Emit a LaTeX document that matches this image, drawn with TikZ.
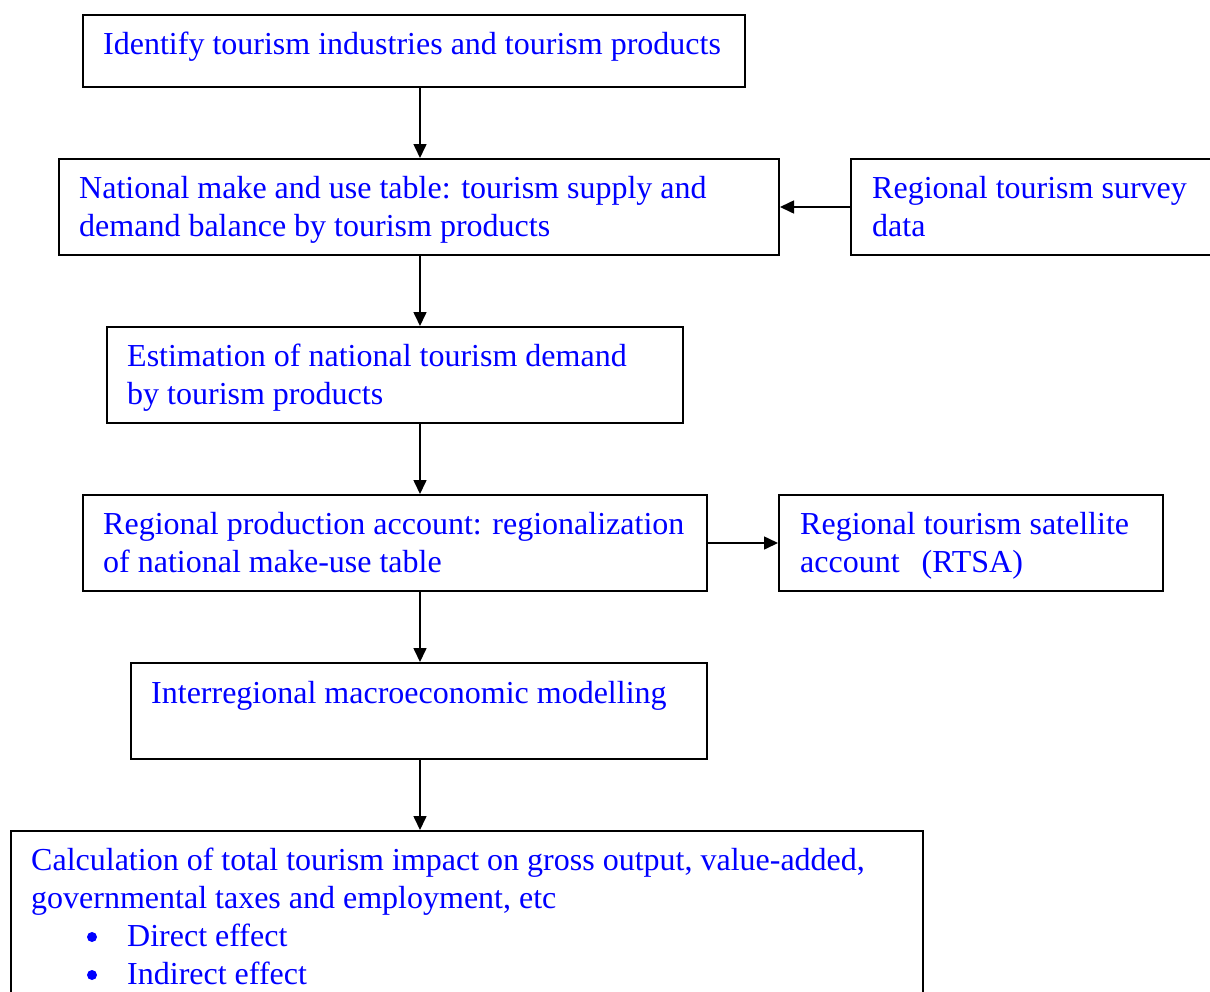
\documentclass[tikz,border=0pt]{standalone}
\usepackage{fontspec}
\setmainfont{Liberation Serif}
\usetikzlibrary{arrows.meta}
\definecolor{txtblue}{RGB}{0,0,255}
\begin{document}
\begin{tikzpicture}[x=1pt,y=-1pt,
  box/.style={draw=black,line width=2pt,rectangle,inner sep=0pt},
  lbl/.style={anchor=base west,inner sep=0pt,text=txtblue,font=\fontsize{32}{38}\selectfont},
  bul/.style={circle,fill=txtblue,inner sep=0pt,minimum size=10pt},
  arr/.style={line width=1.6pt,-{Triangle[length=14pt,width=13pt]}}]
\useasboundingbox (0,0) rectangle (1210,991);
\clip (0,0) rectangle (1210,991);
% boxes
\node[box,minimum width=662pt,minimum height=72pt] (a) at (414,51) {};
\node[box,minimum width=720pt,minimum height=96pt] (b) at (419,207) {};
\node[box,minimum width=379pt,minimum height=96pt] (c) at (1040.5,207) {};
\node[box,minimum width=576pt,minimum height=96pt] (d) at (395,375) {};
\node[box,minimum width=624pt,minimum height=96pt] (e) at (395,543) {};
\node[box,minimum width=384pt,minimum height=96pt] (f) at (971,543) {};
\node[box,minimum width=576pt,minimum height=96pt] (g) at (419,711) {};
\node[box,minimum width=912pt,minimum height=189pt] (h) at (467,925.5) {};
% texts
\node[lbl] (a1) at (103,54.5) {Identify tourism industries and tourism products};
\node[lbl] (b1) at (79,198.5) {National make and use table: tourism supply and};
\node[lbl] (b2) at (79,236.5) {demand balance by tourism products};
\node[lbl] (c1) at (872,198.5) {Regional tourism survey};
\node[lbl] (c2) at (872,236.5) {data};
\node[lbl] (d1) at (127,366.5) {Estimation of national tourism demand};
\node[lbl] (d2) at (127,404.5) {by tourism products};
\node[lbl] (e1) at (103,534.5) {Regional production account: regionalization};
\node[lbl] (e2) at (103,572.5) {of national make-use table};
\node[lbl] (f1) at (800,534.5) {Regional tourism satellite};
\node[lbl] (f2) at (800,572.5) {account\hspace{22pt}(RTSA)};
\node[lbl] (g1) at (151,703.5) {Interregional macroeconomic modelling};
\node[lbl] (h1) at (31,870.5) {Calculation of total tourism impact on gross output, value-added,};
\node[lbl] (h2) at (31,908.5) {governmental taxes and employment, etc};
\node[bul] (hb1) at (92,937) {};
\node[lbl] (h3) at (127,946.5) {Direct effect};
\node[bul] (hb2) at (92,975) {};
\node[lbl] (h4) at (127,984.5) {Indirect effect};
% connectors
\coordinate (ax) at (420,0);
\draw[arr] (a.south -| ax) -- (b.north -| ax);
\draw[arr] (b.south -| ax) -- (d.north -| ax);
\draw[arr] (d.south -| ax) -- (e.north -| ax);
\draw[arr] (e.south -| ax) -- (g.north -| ax);
\draw[arr] (g.south -| ax) -- (h.north -| ax);
\draw[arr] (c.west) -- (b.east);
\draw[arr] (e.east) -- (f.west);
\end{tikzpicture}
\end{document}
